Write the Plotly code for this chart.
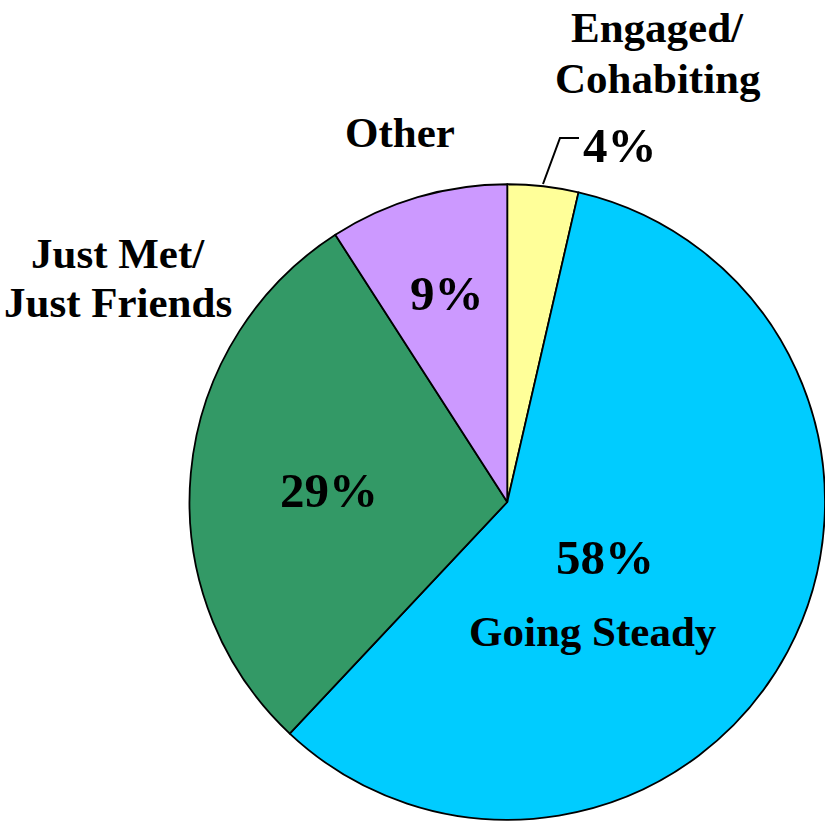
import plotly.graph_objects as go

W, H = 825, 822

categories = ["Engaged/<br>Cohabiting", "Going Steady", "Just Met/<br>Just Friends", "Other"]
values = [3.6, 58.4, 28.9, 9.1]
pct_labels = ["4%", "58%", "29%", "9%"]
colors = ["#FFFF99", "#00CCFF", "#339966", "#CC99FF"]

# pie placement (pixels)
cx, cy, r = 507.5, 502, 318

fig = go.Figure(go.Pie(
    labels=categories,
    values=values,
    sort=False,
    direction="clockwise",
    rotation=0,
    textinfo="none",
    hoverinfo="label+percent",
    marker=dict(colors=colors, line=dict(color="black", width=1.8)),
    domain=dict(x=[(cx - r) / W, min(1, (cx + r) / W)],
                y=[max(0, 1 - (cy + r) / H), 1 - (cy - r) / H]),
    showlegend=False,
))

FONT = "Liberation Serif"

def px(x, y):
    return x / W, 1 - y / H

# label line centres (pixels) per category, one entry per text line
label_pos = {
    "Engaged/<br>Cohabiting": [(657, 28), (658, 78)],
    "Going Steady": [(593, 631)],
    "Just Met/<br>Just Friends": [(118, 253), (118, 302)],
    "Other": [(400, 133)],
}
pct_pos = [(620, 145), (605, 557), (329, 490), (447, 293)]

ann = []
for cat, pl, (pxp, pyp) in zip(categories, pct_labels, pct_pos):
    for line, (lx, ly) in zip(cat.split("<br>"), label_pos[cat]):
        x, y = px(lx, ly)
        ann.append(dict(text=f"<b>{line}</b>", x=x, y=y, xref="paper", yref="paper",
                        showarrow=False, xanchor="center", yanchor="middle",
                        font=dict(family=FONT, size=43, color="black")))
    x, y = px(pxp, pyp)
    ann.append(dict(text=f"<b>{pl}</b>", x=x, y=y, xref="paper", yref="paper",
                    showarrow=False, xanchor="center", yanchor="middle",
                    font=dict(family=FONT, size=49, color="black")))

# leader line for the small slice
p0, p1, p2 = px(543, 184), px(560, 138), px(579, 138)
shape = dict(type="path", xref="paper", yref="paper",
             path=f"M {p0[0]} {p0[1]} L {p1[0]} {p1[1]} L {p2[0]} {p2[1]}",
             line=dict(color="black", width=2))

fig.update_layout(
    width=W, height=H,
    margin=dict(l=0, r=0, t=0, b=0),
    paper_bgcolor="white", plot_bgcolor="white",
    annotations=ann,
    shapes=[shape],
)

fig.write_html("out.html", config={"displayModeBar": False},
               post_script="document.body.style.margin='0';document.body.style.overflow='hidden';")
